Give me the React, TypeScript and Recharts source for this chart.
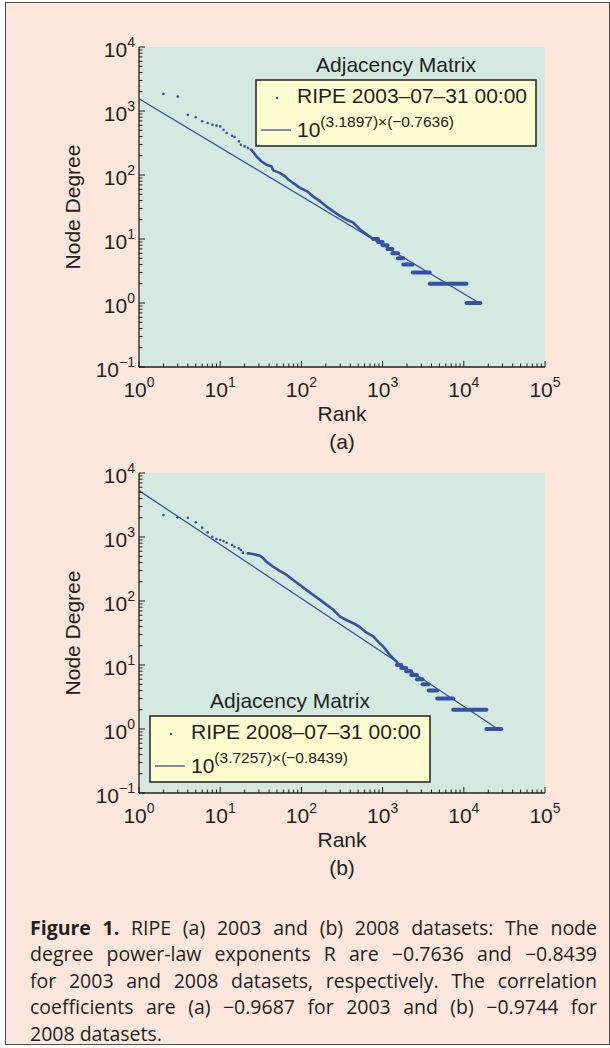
import React from 'react';
import { ComposedChart, Line, Scatter, XAxis, YAxis, CartesianGrid, Label } from 'recharts';

// axis ticks (log decades) and their exponent labels
const xTicks = [1, 10, 100, 1000, 10000, 100000];
const xExponents = ['0', '1', '2', '3', '4', '5'];
const yTicks = [0.1, 1, 10, 100, 1000, 10000];
const yExponents = ['\u22121', '0', '1', '2', '3', '4'];

// (a) RIPE 2003 — sparse head of the rank/degree plot
const headRank2003 = [1, 2, 3, 4, 5, 6, 7, 8, 9, 10, 11, 12, 14, 15, 17, 18, 20, 22, 24];
const headDegree2003 = [2450, 1850, 1680, 870, 800, 690, 650, 610, 590, 575, 510, 453, 411, 392, 335, 296, 280, 264, 248];
// dense body (dots merge into a thick trace)
const bodyRank2003 = [24, 26, 28, 32, 37, 43, 45, 54, 63, 69, 79, 96, 116, 140, 170, 205, 247, 299, 360, 436, 527, 635, 767];
const bodyDegree2003 = [248, 221, 196, 164, 145, 136, 118, 108, 95, 85, 75, 63, 56, 46, 39, 32, 27, 23, 20, 18, 14.1, 11.8, 10];
// integer-degree plateaus in the tail
const stepDegree2003 = [10, 9, 8, 7, 6, 5, 4, 3, 2, 1];
const stepFrom2003 = [767, 880, 1000, 1150, 1320, 1550, 1800, 2350, 3800, 10800];
const stepTo2003 = [880, 1000, 1150, 1320, 1550, 1800, 2350, 3800, 10800, 16000];
// fitted power law 10^(3.1897) x^(-0.7636), end points
const fitRank2003 = [1, 15500];
const fitDegree2003 = [1550, 1.0];

// (b) RIPE 2008
const headRank2008 = [1, 2, 3, 4, 5, 6, 7, 8, 9, 10, 11, 12, 14, 15, 17, 18, 19, 22];
const headDegree2008 = [2700, 2200, 2030, 2000, 1700, 1400, 1180, 1010, 930, 900, 865, 815, 750, 705, 665, 627, 569, 556];
const bodyRank2008 = [22, 26, 31, 34, 37, 45, 54, 66, 79, 96, 116, 140, 170, 205, 247, 299, 362, 436, 527, 635, 767, 885, 1020, 1230, 1500];
const bodyDegree2008 = [556, 536, 510, 465, 412, 343, 296, 255, 213, 178, 148, 124, 104, 87, 73, 57, 50, 45, 39, 32, 28, 23, 19.4, 14.3, 11.2];
const stepDegree2008 = [10, 9, 8, 7, 6, 5, 4, 3, 2, 1];
const stepFrom2008 = [1500, 1700, 1950, 2250, 2650, 3100, 3700, 4700, 7400, 19000];
const stepTo2008 = [1700, 1950, 2250, 2650, 3100, 3700, 4700, 7400, 19000, 29000];
const fitRank2008 = [1, 28000];
const fitDegree2008 = [5300, 0.95];

// caption, one entry per printed line
const captionLines = [
  'RIPE (a) 2003 and (b) 2008 datasets: The node',
  'degree power-law exponents R are \u22120.7636 and \u22120.8439',
  'for 2003 and 2008 datasets, respectively. The correlation',
  'coefficients are (a) \u22120.9687 for 2003 and (b) \u22120.9744 for',
  '2008 datasets.',
];

const FONT = '"Liberation Sans", Arial, Helvetica, sans-serif';
const INK = '#231f20';
const DOT = '#3551a7';
const FIT = '#3a4f9e';
const PLOT_BG = '#d4eae0';
const PAGE_BG = '#fde6dc';
const LEGEND_BG = '#fffbd0';

const minors = (decades: number[]) => decades.flatMap((d) => [2, 3, 4, 5, 6, 7, 8, 9].map((m) => d * m));
const xAllTicks = [...xTicks, ...minors(xTicks.slice(0, -1))];
const yAllTicks = [...yTicks, ...minors(yTicks.slice(0, -1))];

const zip = (r: number[], d: number[]) => r.map((v, i) => ({ r: v, d: d[i] }));

const LogTick = (props: any) => {
  const { x, y, payload, side, showLabel } = props;
  const v = payload.value;
  const horiz = side === 'bottom' || side === 'top';
  const idx = horiz ? xTicks.indexOf(v) : yTicks.indexOf(v);
  const len = idx >= 0 ? 6 : 3.5;
  let line = null;
  if (side === 'bottom') line = <line x1={x} y1={y} x2={x} y2={y - len} />;
  if (side === 'top') line = <line x1={x} y1={y} x2={x} y2={y + len} />;
  if (side === 'left') line = <line x1={x} y1={y} x2={x + len} y2={y} />;
  if (side === 'right') line = <line x1={x} y1={y} x2={x - len} y2={y} />;
  let label = null;
  if (showLabel && idx >= 0) {
    const exp = horiz ? xExponents[idx] : yExponents[idx];
    label = horiz ? (
      <text x={x} y={y + 30} textAnchor="middle" fill={INK} stroke="none" fontSize={21} fontFamily={FONT}>
        <tspan>10</tspan>
        <tspan dy={-10} fontSize={14}>{exp}</tspan>
      </text>
    ) : (
      <text x={x - 4} y={y + 9.5} textAnchor="end" fill={INK} stroke="none" fontSize={21} fontFamily={FONT}>
        <tspan>10</tspan>
        <tspan dy={-10} fontSize={14}>{exp}</tspan>
      </text>
    );
  }
  return (
    <g stroke={INK} strokeWidth={1}>
      {line}
      {label}
    </g>
  );
};

type PanelProps = {
  tag: string;
  headRank: number[];
  headDegree: number[];
  bodyRank: number[];
  bodyDegree: number[];
  stepDegree: number[];
  stepFrom: number[];
  stepTo: number[];
  fitRank: number[];
  fitDegree: number[];
};

const Panel: React.FC<PanelProps> = (p) => {
  const head = zip(p.headRank, p.headDegree);
  const body = zip(p.bodyRank, p.bodyDegree);
  const fit = zip(p.fitRank, p.fitDegree);
  const axisLine = { stroke: INK, strokeWidth: 1.3 };
  return (
    <ComposedChart width={610} height={460} margin={{ top: 47, right: 65, bottom: 63, left: 79 }}>
      <CartesianGrid horizontal={false} vertical={false} fill={PLOT_BG} />
      <XAxis
        dataKey="r"
        type="number"
        scale="log"
        domain={[1, 100000]}
        allowDataOverflow
        ticks={xAllTicks}
        interval={0}
        height={30}
        tickSize={0}
        tickMargin={0}
        tickLine={false}
        axisLine={axisLine}
        tick={(t: any) => <LogTick {...t} side="bottom" showLabel />}
      >
        <Label
          content={(lp: any) => {
            const vb = lp.viewBox;
            const cx = vb.x + vb.width / 2;
            return (
              <g fill={INK} fontFamily={FONT} fontSize={21}>
                <text x={cx} y={vb.y + 54} textAnchor="middle">Rank</text>
                <text x={cx} y={vb.y + 82} textAnchor="middle">{p.tag}</text>
              </g>
            );
          }}
        />
      </XAxis>
      <XAxis
        xAxisId="top"
        orientation="top"
        type="number"
        scale="log"
        domain={[1, 100000]}
        allowDataOverflow
        ticks={xAllTicks}
        interval={0}
        height={0}
        tickSize={0}
        tickMargin={0}
        tickLine={false}
        axisLine={axisLine}
        tick={(t: any) => <LogTick {...t} side="top" />}
      />
      <YAxis
        type="number"
        scale="log"
        domain={[0.1, 10000]}
        allowDataOverflow
        ticks={yAllTicks}
        interval={0}
        width={60}
        tickSize={0}
        tickMargin={0}
        tickLine={false}
        axisLine={axisLine}
        tick={(t: any) => <LogTick {...t} side="left" showLabel />}
      >
        <Label
          content={(lp: any) => {
            const vb = lp.viewBox;
            const bx = vb.x + 1;
            const cy = vb.y + vb.height / 2;
            return (
              <text x={bx} y={cy} transform={`rotate(-90, ${bx}, ${cy})`} textAnchor="middle" fill={INK} fontFamily={FONT} fontSize={21}>
                Node Degree
              </text>
            );
          }}
        />
      </YAxis>
      <YAxis
        yAxisId="right"
        orientation="right"
        type="number"
        scale="log"
        domain={[0.1, 10000]}
        allowDataOverflow
        ticks={yAllTicks}
        interval={0}
        width={0}
        tickSize={0}
        tickMargin={0}
        tickLine={false}
        axisLine={axisLine}
        tick={(t: any) => <LogTick {...t} side="right" />}
      />
      <Line data={fit} dataKey="d" stroke={FIT} strokeWidth={1.3} dot={false} isAnimationActive={false} />
      <Line data={body} dataKey="d" stroke={DOT} strokeWidth={2.6} strokeLinecap="round" strokeLinejoin="round" dot={false} isAnimationActive={false} />
      {p.stepDegree.map((deg, i) => (
        <Line
          key={deg}
          data={[
            { r: p.stepFrom[i], d: deg },
            { r: p.stepTo[i], d: deg },
          ]}
          dataKey="d"
          stroke={DOT}
          strokeWidth={4}
          strokeLinecap="round"
          dot={false}
          isAnimationActive={false}
        />
      ))}
      <Scatter
        data={head}
        dataKey="d"
        isAnimationActive={false}
        shape={(s: any) => <circle cx={s.cx} cy={s.cy} r={1.3} fill={DOT} />}
      />
    </ComposedChart>
  );
};

const LegendBox: React.FC<{ x: number; y: number; date: string; coef: string; slope: string }> = ({ x, y, date, coef, slope }) => (
  <g fontFamily={FONT} fill={INK}>
    <text x={x + 140} y={y - 8} textAnchor="middle" fontSize={21}>Adjacency Matrix</text>
    <rect x={x} y={y} width={280} height={66} fill={LEGEND_BG} stroke="#222" strokeWidth={1.5} />
    <circle cx={x + 21} cy={y + 18} r={1.2} fill={DOT} />
    <text x={x + 41} y={y + 23} fontSize={21}>{`RIPE ${date}`}</text>
    <line x1={x + 5} x2={x + 35} y1={y + 50} y2={y + 50} stroke={FIT} strokeWidth={1.3} />
    <text x={x + 41} y={y + 57} fontSize={21}>
      <tspan>10</tspan>
      <tspan dy={-10} fontSize={15.5}>{`(${coef})\u00d7(${slope})`}</tspan>
    </text>
  </g>
);

export default function App() {
  return (
    <div style={{ position: 'absolute', left: 0, top: 0, width: 610, height: 1048, background: '#ffffff' }}>
      <div
        style={{
          position: 'absolute',
          left: 5,
          top: 2,
          width: 603,
          height: 1041,
          background: PAGE_BG,
          border: '1.5px solid #4b4b4b',
        }}
      />
      <div style={{ position: 'absolute', left: 0, top: 0 }}>
        <Panel
          tag="(a)"
          headRank={headRank2003}
          headDegree={headDegree2003}
          bodyRank={bodyRank2003}
          bodyDegree={bodyDegree2003}
          stepDegree={stepDegree2003}
          stepFrom={stepFrom2003}
          stepTo={stepTo2003}
          fitRank={fitRank2003}
          fitDegree={fitDegree2003}
        />
      </div>
      <div style={{ position: 'absolute', left: 0, top: 426 }}>
        <Panel
          tag="(b)"
          headRank={headRank2008}
          headDegree={headDegree2008}
          bodyRank={bodyRank2008}
          bodyDegree={bodyDegree2008}
          stepDegree={stepDegree2008}
          stepFrom={stepFrom2008}
          stepTo={stepTo2008}
          fitRank={fitRank2008}
          fitDegree={fitDegree2008}
        />
      </div>
      <svg style={{ position: 'absolute', left: 0, top: 0, pointerEvents: 'none' }} width={610} height={1048}>
        <LegendBox x={256} y={80} date={'2003\u201307\u201331 00:00'} coef="3.1897" slope={'\u22120.7636'} />
        <LegendBox x={150} y={716} date={'2008\u201307\u201331 00:00'} coef="3.7257" slope={'\u22120.8439'} />
      </svg>
      <div
        style={{
          position: 'absolute',
          left: 30,
          top: 915,
          width: 567,
          fontFamily: '"Open Sans", sans-serif',
          fontSize: 19.5,
          lineHeight: '26.4px',
          color: INK,
        }}
      >
        {captionLines.map((line, i) => (
          <div
            key={i}
            style={{
              whiteSpace: 'nowrap',
              textAlign: i < captionLines.length - 1 ? 'justify' : 'left',
              textAlignLast: i < captionLines.length - 1 ? 'justify' : 'left',
            }}
          >
            {i === 0 ? <b>Figure 1. </b> : null}
            {line}
          </div>
        ))}
      </div>
    </div>
  );
}
